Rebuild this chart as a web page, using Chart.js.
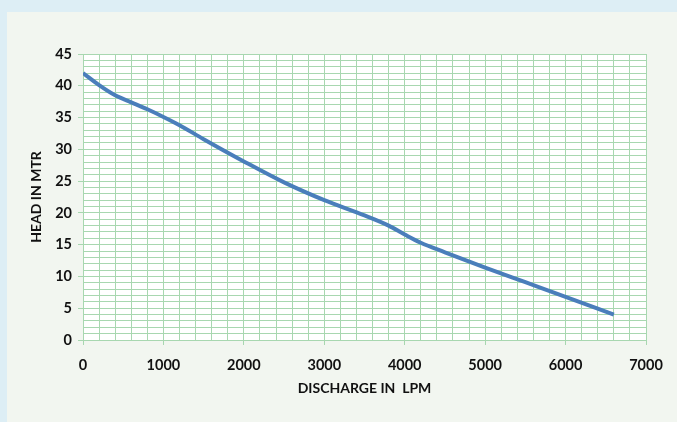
<!DOCTYPE html>
<html>
<head>
<meta charset="utf-8">
<script src="https://cdn.jsdelivr.net/npm/chart.js@4"></script>
<style>
body{margin:0;background:#ddeef5;}
#panel{position:absolute;left:7px;top:12px;width:670px;height:410px;background:#f2f6f0;}
</style>
</head>
<body>
<div id="panel"><canvas id="pumpChart" width="670" height="410"></canvas></div>
<script>
// pump curve
const discharge = [0,200,400,600,800,1000,1200,1500,2000,2500,3000,3500,3800,4000,4200,4500,5000,5500,6000,6600];
const head = [42,40.1,38.5,37.4,36.3,35.1,33.8,31.6,28.1,24.8,22.0,19.6,18.0,16.6,15.3,13.8,11.4,9.1,6.8,4.0];

const xTickLabels = [0,1000,2000,3000,4000,5000,6000,7000];
const yTickLabels = [0,5,10,15,20,25,30,35,40,45];

const gridGreen = "#a8d7b0";
const tickFont = {family:"Lato", weight:"bold", size:14.5};
const titleFont = {family:"Lato", weight:"bold", size:14};

const ctx = document.getElementById("pumpChart");

new Chart(ctx,{
    type:"scatter",
    data:{
        datasets:[{
            label:"Head",
            data:discharge.map((d,i)=>({x:d,y:head[i]})),
            showLine:true,
            borderColor:"#4a7ebb",
            borderWidth:4,
            pointRadius:0,
            tension:0.4,
            cubicInterpolationMode:"monotone"
        }]
    },
    options:{
        responsive:false,
        animation:false,
        layout:{padding:{left:21,right:31,top:42,bottom:25}},
        plugins:{
            legend:{display:false},
            tooltip:{enabled:false}
        },
        scales:{
            x:{
                type:"linear",
                min:0,
                max:7000,
                ticks:{
                    stepSize:200,
                    autoSkip:false,
                    maxRotation:0,
                    color:"#111",
                    font:tickFont,
                    padding:12,
                    callback:v=>xTickLabels.includes(v)?String(v):""
                },
                grid:{
                    color:gridGreen,
                    tickLength:5,
                    tickColor:c=>(c.tick && c.tick.value%1000===0)?gridGreen:"rgba(0,0,0,0)"
                },
                border:{color:gridGreen},
                title:{
                    display:true,
                    text:"DISCHARGE IN  LPM",
                    color:"#111",
                    font:titleFont,
                    padding:0
                },
                afterFit:s=>{s.height=57;}
            },
            y:{
                min:0,
                max:45,
                ticks:{
                    stepSize:1,
                    autoSkip:false,
                    color:"#111",
                    font:tickFont,
                    padding:6,
                    callback:v=>yTickLabels.includes(v)?String(v):""
                },
                grid:{
                    color:gridGreen,
                    tickLength:5,
                    tickColor:c=>(c.tick && c.tick.value%5===0)?gridGreen:"rgba(0,0,0,0)"
                },
                border:{color:gridGreen},
                title:{
                    display:true,
                    text:"HEAD IN MTR",
                    color:"#111",
                    font:titleFont,
                    padding:0
                },
                afterFit:s=>{s.width=55;}
            }
        }
    },
    plugins:[{
        id:"plotBg",
        beforeDraw(chart){
            const a = chart.chartArea;
            chart.ctx.save();
            chart.ctx.fillStyle = "#ffffff";
            chart.ctx.fillRect(a.left,a.top,a.right-a.left,a.bottom-a.top);
            chart.ctx.restore();
        }
    }]
});
</script>
</body>
</html>
